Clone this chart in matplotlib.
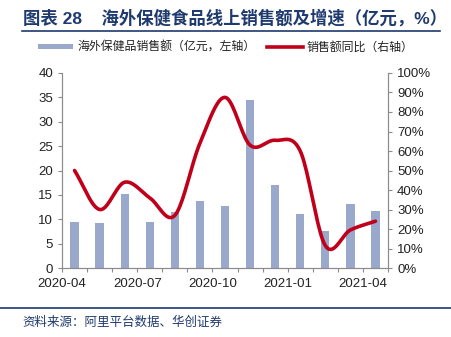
import numpy as np
import matplotlib.pyplot as plt
from matplotlib.lines import Line2D
from matplotlib.patches import Patch

plt.rcParams['font.family'] = ['Liberation Sans', 'Noto Sans CJK SC', 'DejaVu Sans']

months = ['2020-04', '2020-05', '2020-06', '2020-07', '2020-08', '2020-09', '2020-10',
          '2020-11', '2020-12', '2021-01', '2021-02', '2021-03', '2021-04']
sales = [9.4, 9.2, 15.1, 9.4, 11.5, 13.7, 12.7, 34.5, 17.1, 11.1, 7.5, 13.1, 11.7]
yoy = [0.50, 0.30, 0.44, 0.36, 0.27, 0.64, 0.875, 0.63, 0.655, 0.60, 0.115, 0.195, 0.24]
tick_labels = ['2020-04', '2020-07', '2020-10', '2021-01', '2021-04']

bar_color = '#9AA8CB'
line_color = '#C0001A'
navy = '#1F3A6E'
gray = '#8C8C8C'


def smooth(x, y, n=20):
    # Catmull-Rom curve through the points, like Excel's smoothed line
    x = np.asarray(x, float)
    y = np.asarray(y, float)
    px = np.concatenate([[2 * x[0] - x[1]], x, [2 * x[-1] - x[-2]]])
    py = np.concatenate([[2 * y[0] - y[1]], y, [2 * y[-1] - y[-2]]])
    xs, ys = [], []
    t = np.linspace(0, 1, n, endpoint=False)
    for i in range(1, len(px) - 2):
        for p, out in ((px, xs), (py, ys)):
            p0, p1, p2, p3 = p[i - 1], p[i], p[i + 1], p[i + 2]
            out.extend(0.5 * (2 * p1 + (-p0 + p2) * t + (2 * p0 - 5 * p1 + 4 * p2 - p3) * t ** 2
                              + (-p0 + 3 * p1 - 3 * p2 + p3) * t ** 3))
    xs.append(x[-1])
    ys.append(y[-1])
    return np.array(xs), np.array(ys)


fig = plt.figure(figsize=(4.51, 3.37), dpi=100)
ax = fig.add_axes([0.1375, 0.2047, 0.7228, 0.5787])
ax2 = ax.twinx()

x = np.arange(len(months))
ax.bar(x, sales, width=0.33, color=bar_color, zorder=2)
sx, sy = smooth(x, yoy)
ax2.plot(sx, sy, color=line_color, lw=2.6, solid_capstyle='round')

ax.set_xlim(-0.5, len(months) - 0.5)
ax.set_ylim(0, 40)
ax.set_yticks(range(0, 41, 5))
ax2.set_ylim(0, 1)
ax2.set_yticks(np.arange(0, 1.01, 0.1))
ax2.set_yticklabels([f'{int(round(v * 100))}%' for v in np.arange(0, 1.01, 0.1)])

ax.set_xticks(np.arange(-0.5, len(months), 3))
ax.set_xticklabels(tick_labels)
ax.set_xticks(np.arange(-0.5, len(months), 1), minor=True)

for a in (ax, ax2):
    for s in a.spines.values():
        s.set_color(gray)
        s.set_linewidth(0.8)
    a.spines['top'].set_visible(False)
    a.tick_params(colors=gray, labelcolor='#222222', labelsize=9.5, length=3, width=0.8)
    a.tick_params(which='minor', colors=gray, length=3, width=0.8)
ax.tick_params(axis='x', pad=4)

handles = [Patch(facecolor=bar_color, edgecolor='none'),
           Line2D([0], [0], color=line_color, lw=2.6)]
fig.legend(handles, ['海外保健品销售额（亿元，左轴）', '销售额同比（右轴）'],
           loc='center', bbox_to_anchor=(0.5, 0.858), ncol=2, frameon=False,
           fontsize=8.6, handlelength=3.0, handleheight=0.35, columnspacing=1.0,
           handletextpad=0.3, labelcolor='#222222')

fig.text(0.05, 0.948, '图表 28    海外保健食品线上销售额及增速（亿元，%）',
         fontsize=12.5, fontweight='bold', color=navy, va='center')
fig.add_artist(Line2D([0.048, 0.975], [0.908, 0.908], color=navy, lw=1.2))
fig.add_artist(Line2D([0.0, 1.0], [0.085, 0.085], color=navy, lw=1.2))
fig.text(0.05, 0.042, '资料来源：阿里平台数据、华创证券', fontsize=9, color=navy,
         style='italic', va='center')

fig.savefig('out.png', dpi=100)
